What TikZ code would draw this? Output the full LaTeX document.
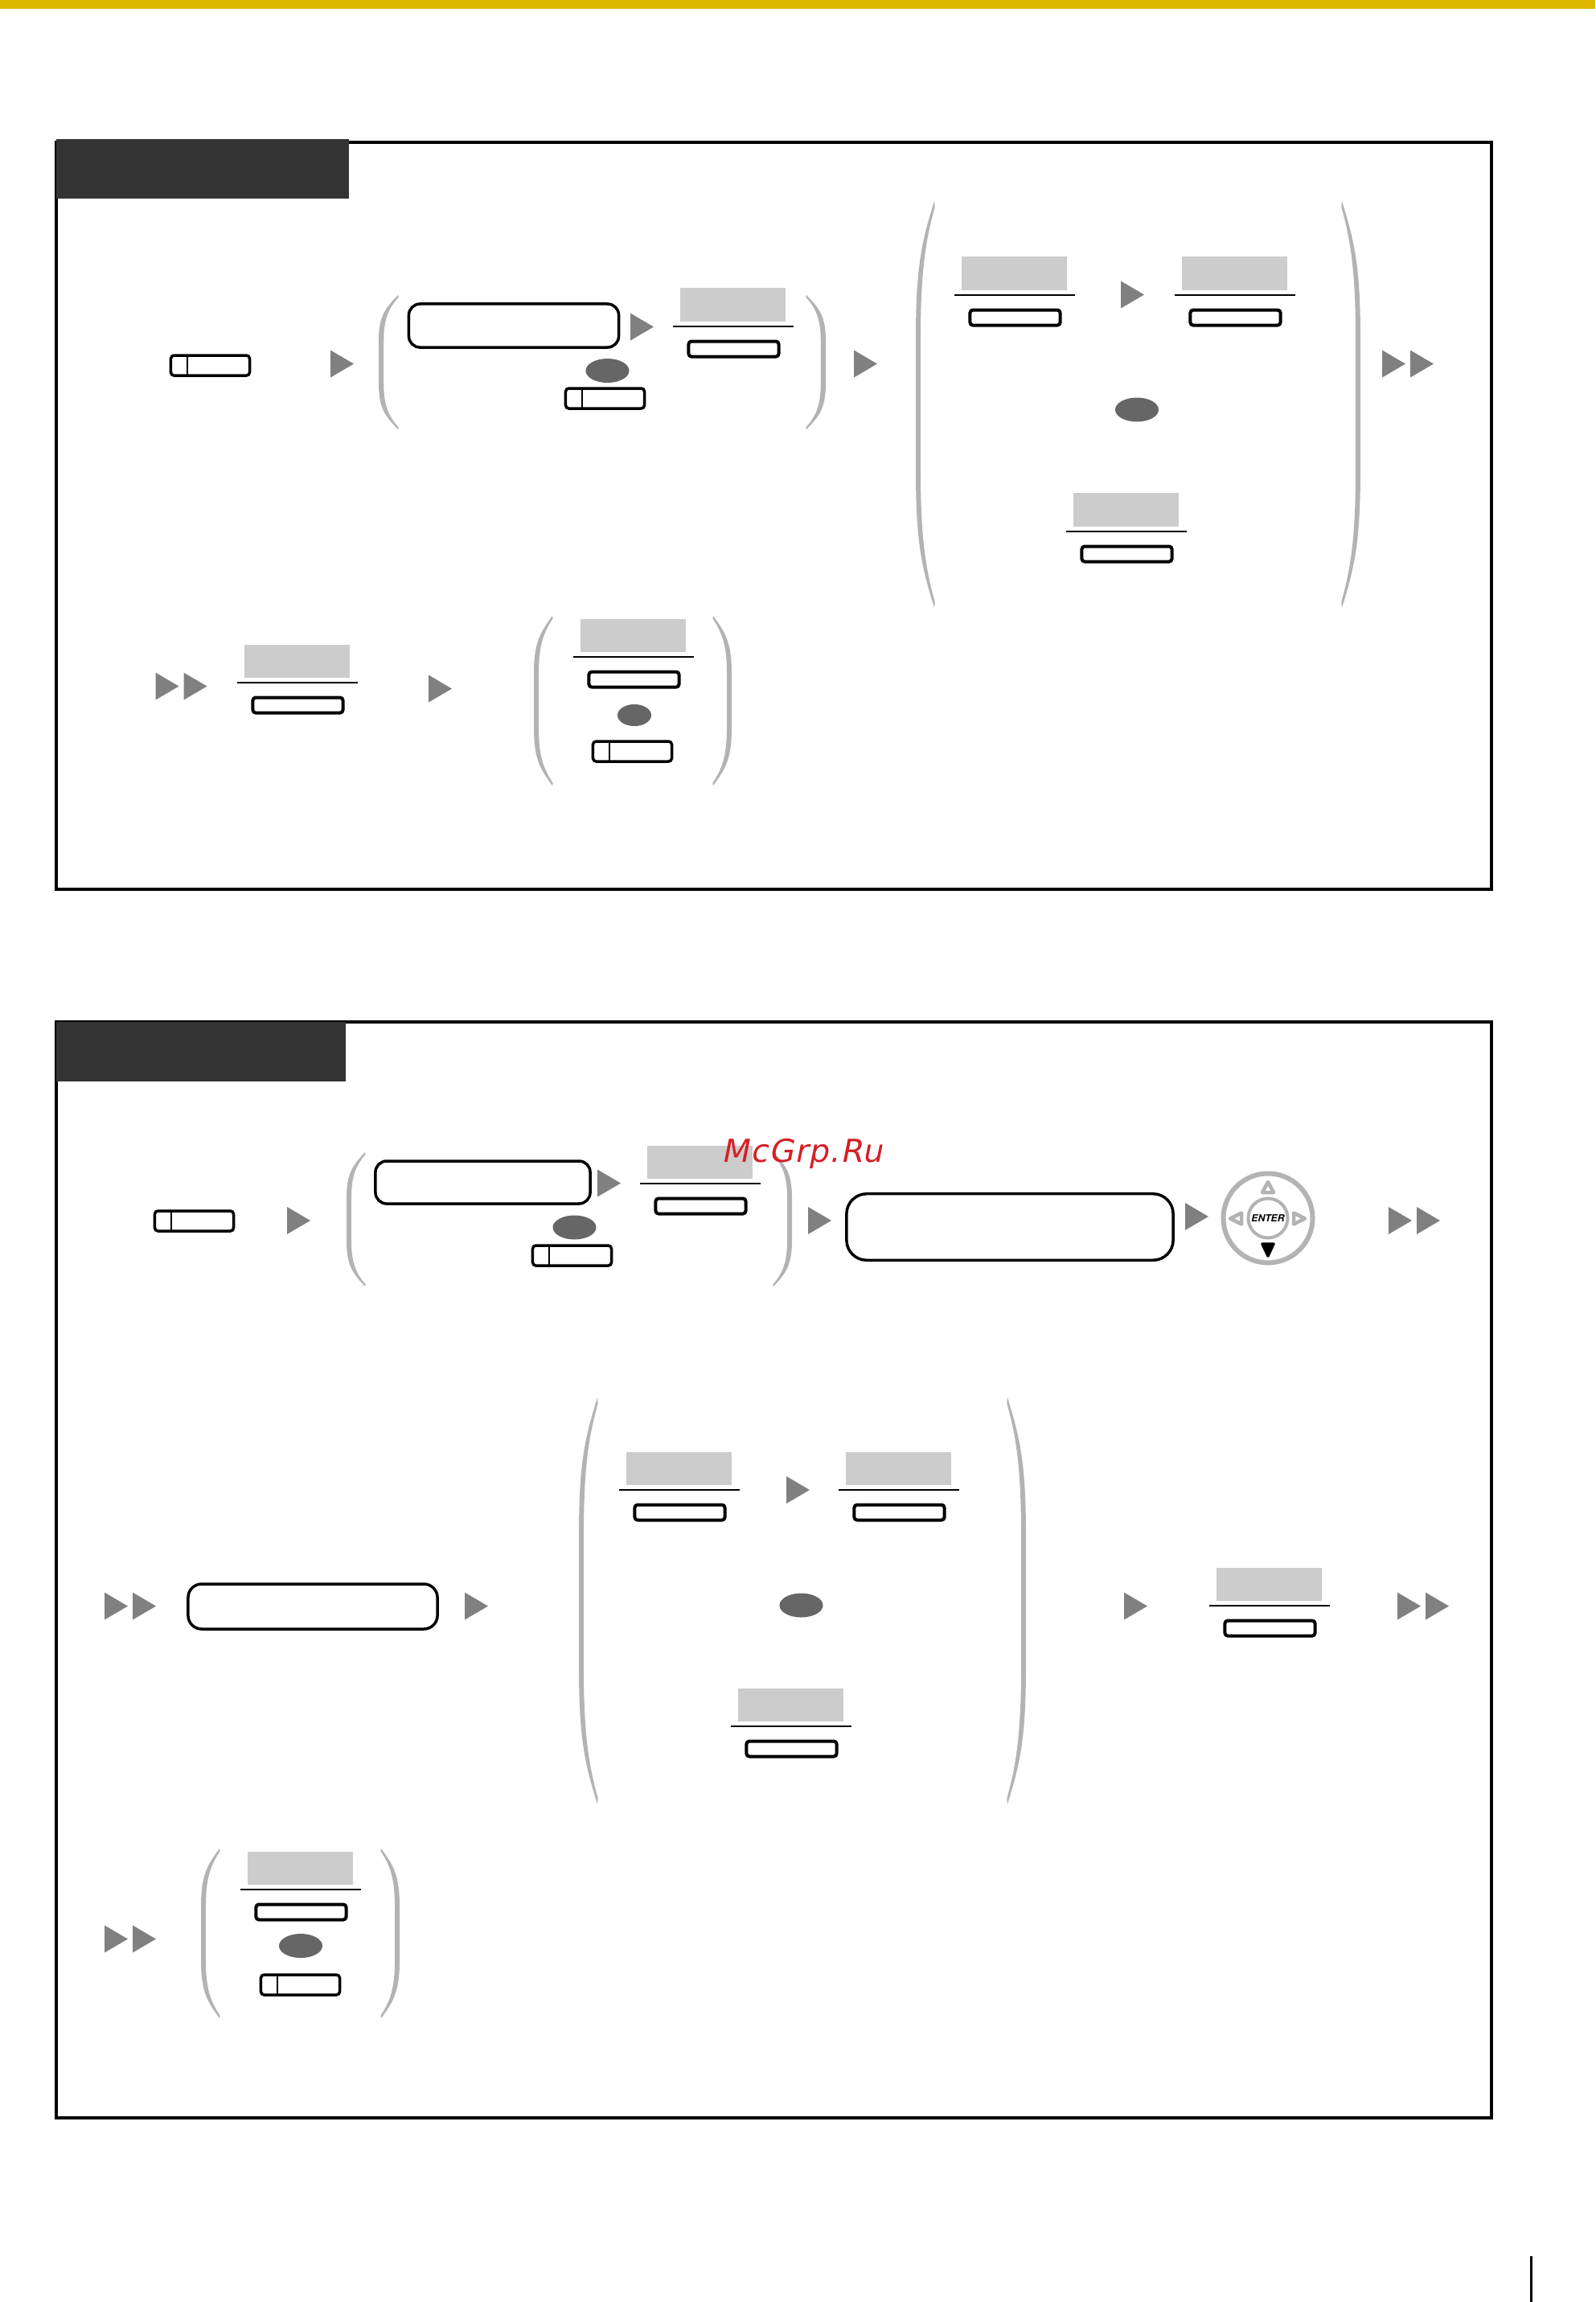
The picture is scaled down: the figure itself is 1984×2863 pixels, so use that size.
\documentclass[tikz,border=0pt]{standalone}
\usepackage{fontspec}
\setsansfont{TeX Gyre Heros}
\newfontfamily\wmfont[LetterSpace=3.5,FakeSlant=0.2]{DejaVu Sans}
\definecolor{topbar}{HTML}{DEB800}
\definecolor{hdr}{HTML}{333333}
\definecolor{softgray}{HTML}{CCCCCC}
\definecolor{arrowgray}{HTML}{808080}
\definecolor{parengray}{HTML}{B3B3B3}
\definecolor{ovalgray}{HTML}{666666}
\definecolor{wmred}{HTML}{D42026}
\usetikzlibrary{shapes.geometric}
\tikzset{
  px/.style={x=0.01cm,y=-0.01cm},
  frameline/.style={draw=black,line width=0.04cm},
  softrect/.style={fill=softgray,draw=none,minimum width=1.30cm,minimum height=0.41cm,inner sep=0pt},
  softpill/.style={draw=black,line width=0.04cm,fill=white,rounded corners=0.035cm,minimum width=1.12cm,minimum height=0.19cm,inner sep=0pt},
  keybox/.style={draw=black,line width=0.035cm,fill=white,rounded corners=0.04cm,minimum width=0.98cm,minimum height=0.25cm,inner sep=0pt},
  screenbox/.style={draw=black,line width=0.035cm,fill=white,inner sep=0pt},
  oval/.style={ellipse,fill=ovalgray,draw=none,minimum width=0.54cm,minimum height=0.30cm,inner sep=0pt},
  smalloval/.style={oval,minimum width=0.42cm,minimum height=0.27cm},
  dialline/.style={draw=parengray,line join=round},
}
% triangle arrow: left x, centre y
\newcommand{\triarrow}[2]{\fill[arrowgray] (#1,#2-17) -- (#1+29,#2) -- (#1,#2+17) -- cycle;}
% double arrow
\newcommand{\dblarrow}[2]{\triarrow{#1}{#2}\triarrow{#1+35}{#2}}
% softkey: name, centre x, top of the grey rectangle
\newcommand{\softkey}[3]{%
  \node[softrect] (#1r) at (#2+0.5,#3+21) {};
  \coordinate (#1a) at (#2-74,#3+47.5);
  \coordinate (#1b) at (#2+76,#3+47.5);
  \draw[line width=0.02cm] (#1a) -- (#1b);
  \node[softpill] (#1p) at (#2+1.5,#3+76) {};
}
% key with divider: name, left x, top y
\newcommand{\linekey}[3]{%
  \node[keybox] (#1) at (#2+50,#3+13.5) {};
  \coordinate (#1t) at (#2+21.5,#3+2);
  \coordinate (#1u) at (#2+21.5,#3+25);
  \draw[line width=0.025cm] (#1t) -- (#1u);
}
% parentheses: left x, right x, top, height, width
\newcommand{\brackshape}{(1,0) .. controls (.32,.10) and (0,.16) .. (0,.34) -- (0,.66) .. controls (0,.84) and (.32,.90) .. (1,1) -- (1.03,.985) .. controls (.5,.90) and (.26,.82) .. (.26,.66) -- (.26,.34) .. controls (.26,.18) and (.5,.10) .. (1.03,.015) -- cycle}
\newcommand{\parenpair}[5]{%
  \begin{scope}[shift={(#1,#3)},x=#5*0.01cm,y=-#4*0.01cm]\fill[parengray] \brackshape;\end{scope}
  \begin{scope}[shift={(#2,#3)},x=-#5*0.01cm,y=-#4*0.01cm]\fill[parengray] \brackshape;\end{scope}
}
\begin{document}
\begin{tikzpicture}[px]
\useasboundingbox (0,0) rectangle (1984,2863);
\fill[white] (0,0) rectangle (1984,2863);
\fill[topbar] (0,0) rectangle (1984,11);
% ---------- frame 1
\draw[frameline] (70,177) rectangle (1855,1106);
\node[fill=hdr,draw=none,inner sep=0pt,minimum width=3.64cm,minimum height=0.74cm] (head1) at (252,210) {};
\linekey{k1}{211.5}{441}
\triarrow{411}{452.5}
\parenpair{471}{1027}{367}{167}{24}
\node[screenbox,rounded corners=0.14cm,minimum width=2.61cm,minimum height=0.54cm] (s1) at (639,405) {};
\triarrow{784}{406.5}
\softkey{a1}{911}{358}
\node[oval] (o1) at (755.5,461) {};
\linekey{k2}{702.5}{482}
\triarrow{1062}{452.5}
\parenpair{1139}{1692}{250}{506}{23}
\softkey{a2}{1261}{319}
\triarrow{1394}{366.5}
\softkey{a3}{1535}{319}
\node[oval] (o2) at (1414,509.5) {};
\softkey{a4}{1400}{613}
\dblarrow{1719}{452.5}
% row 2
\dblarrow{193.5}{853.5}
\softkey{a5}{369}{801}
\triarrow{533}{856.5}
\parenpair{664}{910}{766}{211}{23}
\softkey{a6}{787}{769}
\node[smalloval] (o3) at (789,889.5) {};
\linekey{k3}{736.5}{921}
% ---------- frame 2
\draw[frameline] (70,1271) rectangle (1855,2634);
\node[fill=hdr,draw=none,inner sep=0pt,minimum width=3.60cm,minimum height=0.74cm] (head2) at (250,1308) {};
\linekey{k4}{191.5}{1505}
\triarrow{357}{1518}
\parenpair{431}{985}{1433}{167}{23}
\node[screenbox,rounded corners=0.14cm,minimum width=2.67cm,minimum height=0.53cm] (s2) at (600.5,1470.5) {};
\triarrow{743}{1471.5}
\softkey{b1}{870}{1424}
\node[oval] (o4) at (714.5,1526.5) {};
\linekey{k5}{661.5}{1548}
\triarrow{1005}{1518}
\node[screenbox,rounded corners=0.25cm,minimum width=4.06cm,minimum height=0.825cm] (s3) at (1256,1526) {};
\triarrow{1474}{1513}
% dial
\node[circle,draw=parengray,line width=0.06cm,minimum size=1.11cm,inner sep=0pt] (dial) at (1577,1515) {};
\node[circle,draw=parengray,line width=0.04cm,minimum size=0.49cm,inner sep=0pt] (dialc) at (1577,1515) {};
\node[inner sep=0pt,text=black] (enter) at (1577,1515) {\fontsize{3.45pt}{4pt}\selectfont\sffamily\bfseries\itshape ENTER};
\draw[dialline,line width=0.045cm] (1577,1470) -- (1584,1483) -- (1570,1483) -- cycle;
\draw[dialline,line width=0.045cm] (1530,1515.5) -- (1544,1508.5) -- (1544,1522.5) -- cycle;
\draw[dialline,line width=0.045cm] (1623,1515.5) -- (1609,1508.5) -- (1609,1522.5) -- cycle;
\filldraw[black,line width=0.035cm,line join=round] (1570,1547) -- (1584,1547) -- (1577,1562) -- cycle;
\dblarrow{1727}{1518}
% row 2
\dblarrow{130}{1997.5}
\node[screenbox,rounded corners=0.17cm,minimum width=3.10cm,minimum height=0.56cm] (s4) at (389,1998) {};
\triarrow{578}{1997.5}
\parenpair{720}{1276}{1738}{506}{23}
\softkey{b2}{844}{1805}
\triarrow{978}{1853}
\softkey{b3}{1117}{1805}
\node[oval] (o5) at (996.5,1996.5) {};
\softkey{b4}{983}{2099}
\triarrow{1398}{1997.5}
\softkey{b5}{1578}{1949}
\dblarrow{1738}{1997.5}
% row 3
\dblarrow{130}{2411.5}
\parenpair{250}{497}{2299}{211}{23}
\softkey{b6}{373}{2302}
\node[oval] (o6) at (374,2420) {};
\linekey{k6}{323.5}{2455}
% watermark
\node[anchor=base west,inner sep=0pt,text=wmred] (wm) at (897,1445) {\fontsize{11.2pt}{13pt}\selectfont\wmfont McGrp.Ru};
% page edge line
\coordinate (pa) at (1904.5,2806);
\coordinate (pb) at (1904.5,2863);
\draw[line width=0.03cm] (pa) -- (pb);
\end{tikzpicture}
\end{document}
